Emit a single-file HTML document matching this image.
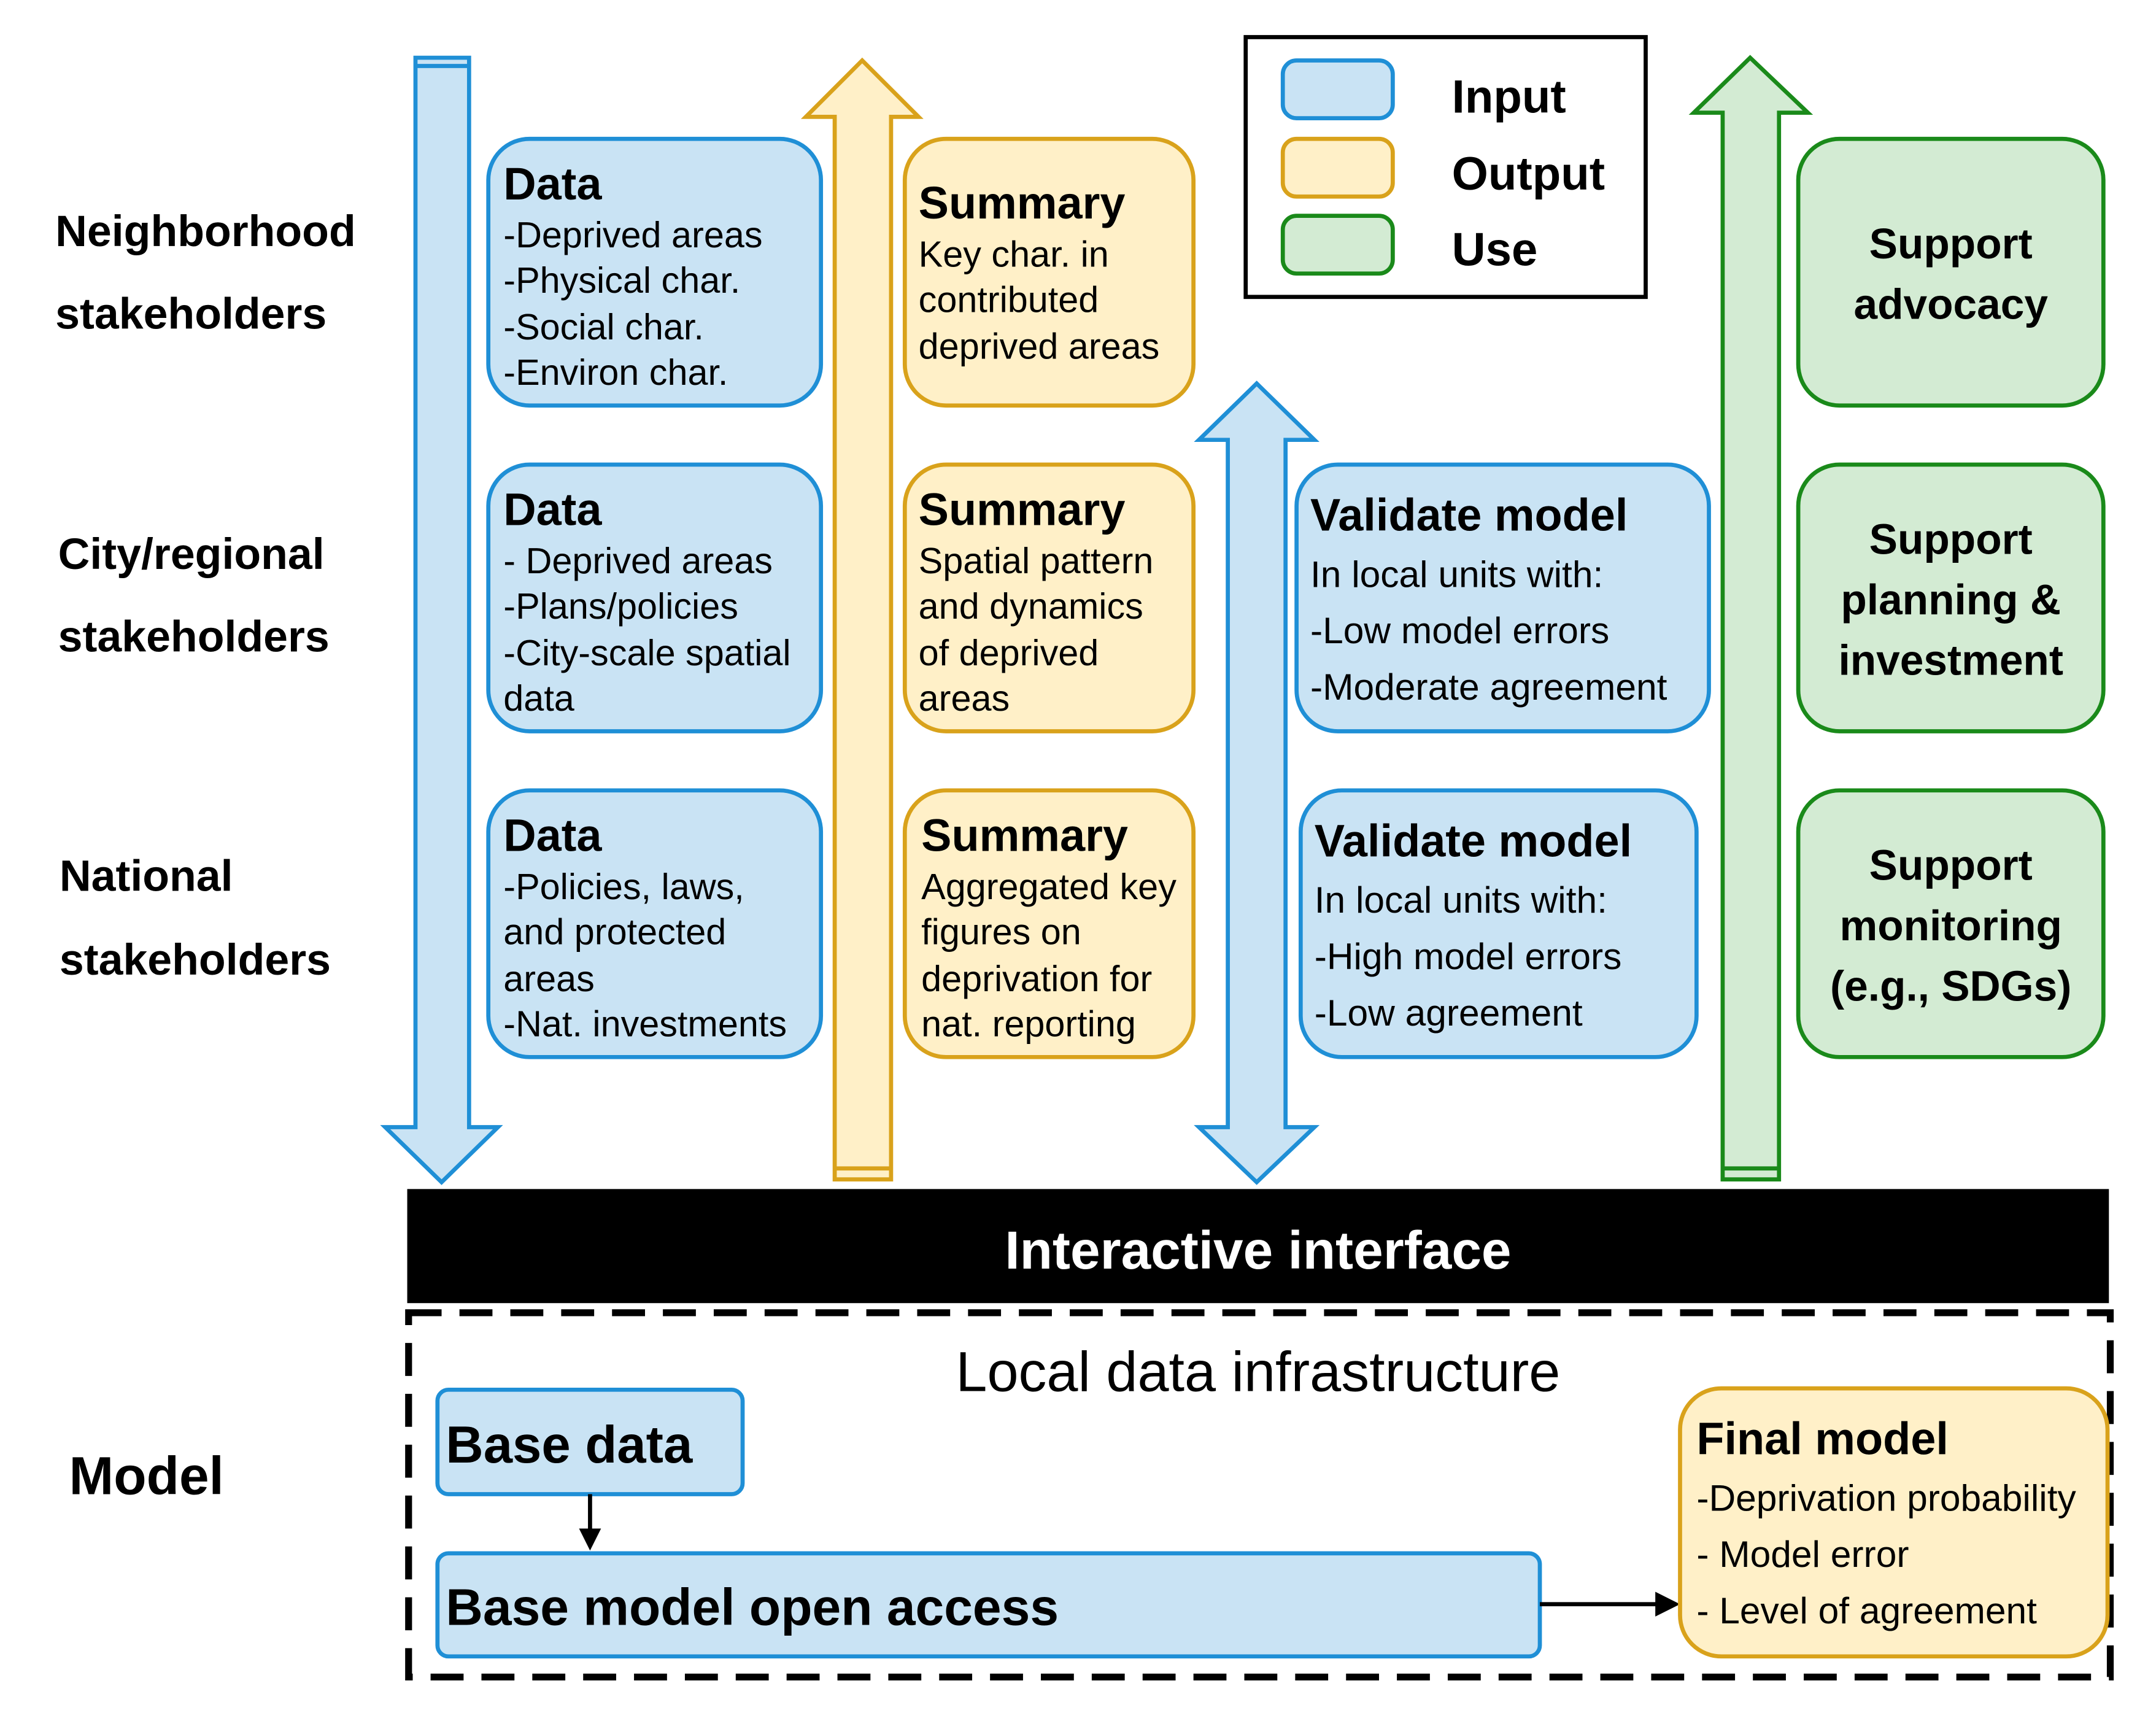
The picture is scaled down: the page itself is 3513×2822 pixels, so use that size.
<!DOCTYPE html>
<html><head><meta charset="utf-8"><style>
html,body{margin:0;padding:0;background:#fff;}
svg{display:block;}
text{font-family:"Liberation Sans",sans-serif;}
.t{font-weight:bold;font-size:33px;fill:#000;}
.b{font-size:27px;fill:#000;}
.d{font-size:26.5px;fill:#000;}
.l{font-weight:bold;font-size:32px;fill:#000;}
.g{font-weight:bold;font-size:31px;fill:#000;}
</style></head><body>
<svg width="3513" height="2822" viewBox="0 0 1568 1260" xmlns="http://www.w3.org/2000/svg">
<rect width="1568" height="1260" fill="#fff"/>
<text class="l" x="40" y="179">Neighborhood</text>
<text class="l" x="40" y="239">stakeholders</text>
<text class="l" x="42" y="414">City/regional</text>
<text class="l" x="42" y="474">stakeholders</text>
<text class="l" x="43" y="648">National</text>
<text class="l" x="43" y="709">stakeholders</text>
<text x="50" y="1087" style="font-weight:bold;font-size:39px">Model</text>

<polygon points="302,42 341,42 341,820 362,820 321,860 280,820 302,820" fill="#c9e3f4" stroke="#1f8fd6" stroke-width="3"/>
<line x1="302" y1="48" x2="341" y2="48" stroke="#1f8fd6" stroke-width="3"/>
<polygon points="607,858 648,858 648,85 668,85 627,44 586,85 607,85" fill="#fff0c8" stroke="#d9a21b" stroke-width="3"/>
<line x1="607" y1="850" x2="648" y2="850" stroke="#d9a21b" stroke-width="3"/>
<polygon points="893,320 872,320 914,279 956,320 935,320 935,820 956,820 914,860 872,820 893,820" fill="#c9e3f4" stroke="#1f8fd6" stroke-width="3"/>
<polygon points="1253,858 1294,858 1294,82 1315,82 1273,42 1232,82 1253,82" fill="#d3ebd3" stroke="#1a8a1a" stroke-width="3"/>
<line x1="1253" y1="850" x2="1294" y2="850" stroke="#1a8a1a" stroke-width="3"/>

<g fill="#c9e3f4" stroke="#1f8fd6" stroke-width="3">
<rect x="355" y="101" width="242" height="194" rx="30"/>
<rect x="355" y="338" width="242" height="194" rx="30"/>
<rect x="355" y="575" width="242" height="194" rx="30"/>
<rect x="943" y="338" width="300" height="194" rx="30"/>
<rect x="946" y="575" width="288" height="194" rx="30"/>
</g>
<g fill="#fff0c8" stroke="#d9a21b" stroke-width="3">
<rect x="658" y="101" width="210" height="194" rx="30"/>
<rect x="658" y="338" width="210" height="194" rx="30"/>
<rect x="658" y="575" width="210" height="194" rx="30"/>
</g>
<g fill="#d3ebd3" stroke="#1a8a1a" stroke-width="3">
<rect x="1308" y="101" width="222" height="194" rx="30"/>
<rect x="1308" y="338" width="222" height="194" rx="30"/>
<rect x="1308" y="575" width="222" height="194" rx="30"/>
</g>

<text class="t" x="366" y="145">Data</text>
<text class="d" x="366" y="180">-Deprived areas</text>
<text class="d" x="366" y="213">-Physical char.</text>
<text class="d" x="366" y="247">-Social char.</text>
<text class="d" x="366" y="280">-Environ char.</text>

<text class="t" x="366" y="382">Data</text>
<text class="d" x="366" y="417">- Deprived areas</text>
<text class="d" x="366" y="450">-Plans/policies</text>
<text class="d" x="366" y="484">-City-scale spatial</text>
<text class="d" x="366" y="517">data</text>

<text class="t" x="366" y="619">Data</text>
<text class="d" x="366" y="654">-Policies, laws,</text>
<text class="d" x="366" y="687">and protected</text>
<text class="d" x="366" y="721">areas</text>
<text class="d" x="366" y="754">-Nat. investments</text>

<text class="t" x="668" y="159">Summary</text>
<text class="d" x="668" y="194">Key char. in</text>
<text class="d" x="668" y="227">contributed</text>
<text class="d" x="668" y="261">deprived areas</text>

<text class="t" x="668" y="382">Summary</text>
<text class="d" x="668" y="417">Spatial pattern</text>
<text class="d" x="668" y="450">and dynamics</text>
<text class="d" x="668" y="484">of deprived</text>
<text class="d" x="668" y="517">areas</text>

<text class="t" x="670" y="619">Summary</text>
<text class="d" x="670" y="654">Aggregated key</text>
<text class="d" x="670" y="687">figures on</text>
<text class="d" x="670" y="721">deprivation for</text>
<text class="d" x="670" y="754">nat. reporting</text>

<text class="t" x="953" y="386">Validate model</text>
<text class="b" x="953" y="427">In local units with:</text>
<text class="b" x="953" y="468">-Low model errors</text>
<text class="b" x="953" y="509">-Moderate agreement</text>

<text class="t" x="956" y="623">Validate model</text>
<text class="b" x="956" y="664">In local units with:</text>
<text class="b" x="956" y="705">-High model errors</text>
<text class="b" x="956" y="746">-Low agreement</text>

<g text-anchor="middle">
<text class="g" x="1419" y="188">Support</text>
<text class="g" x="1419" y="232">advocacy</text>
<text class="g" x="1419" y="403">Support</text>
<text class="g" x="1419" y="447">planning &amp;</text>
<text class="g" x="1419" y="491">investment</text>
<text class="g" x="1419" y="640">Support</text>
<text class="g" x="1419" y="684">monitoring</text>
<text class="g" x="1419" y="728">(e.g., SDGs)</text>
</g>

<rect x="906" y="27" width="291" height="189" fill="#fff" stroke="#000" stroke-width="3"/>
<rect x="933" y="44" width="80" height="42" rx="10" fill="#c9e3f4" stroke="#1f8fd6" stroke-width="3"/>
<rect x="933" y="101" width="80" height="42" rx="10" fill="#fff0c8" stroke="#d9a21b" stroke-width="3"/>
<rect x="933" y="157" width="80" height="42" rx="10" fill="#d3ebd3" stroke="#1a8a1a" stroke-width="3"/>
<text x="1056" y="82" style="font-weight:bold;font-size:34px">Input</text>
<text x="1056" y="138" style="font-weight:bold;font-size:34px">Output</text>
<text x="1056" y="193" style="font-weight:bold;font-size:34px">Use</text>

<rect x="296" y="865" width="1238" height="83" fill="#000"/>
<text x="915" y="923" text-anchor="middle" fill="#fff" style="font-weight:bold;font-size:39px">Interactive interface</text>

<rect x="297" y="955" width="1238" height="265" fill="none" stroke="#000" stroke-width="5" stroke-dasharray="24 13"/>
<text x="915" y="1012" text-anchor="middle" style="font-size:41px">Local data infrastructure</text>

<rect x="318" y="1011" width="222" height="76" rx="8" fill="#c9e3f4" stroke="#1f8fd6" stroke-width="3"/>
<text x="324" y="1064" style="font-weight:bold;font-size:38px">Base data</text>
<line x1="429" y1="1087" x2="429" y2="1114" stroke="#000" stroke-width="3"/>
<polygon points="421,1112 437,1112 429,1128" fill="#000"/>

<rect x="318" y="1130" width="802" height="75" rx="8" fill="#c9e3f4" stroke="#1f8fd6" stroke-width="3"/>
<text x="324" y="1182" style="font-weight:bold;font-size:37.5px">Base model open access</text>
<line x1="1120" y1="1167" x2="1206" y2="1167" stroke="#000" stroke-width="3"/>
<polygon points="1204,1158 1222,1167 1204,1176" fill="#000"/>

<rect x="1222" y="1010" width="311" height="195" rx="30" fill="#fff0c8" stroke="#d9a21b" stroke-width="3"/>
<text class="t" x="1234" y="1058">Final model</text>
<text class="b" x="1234" y="1099">-Deprivation probability</text>
<text class="b" x="1234" y="1140">- Model error</text>
<text class="b" x="1234" y="1181">- Level of agreement</text>
</svg>
</body></html>
